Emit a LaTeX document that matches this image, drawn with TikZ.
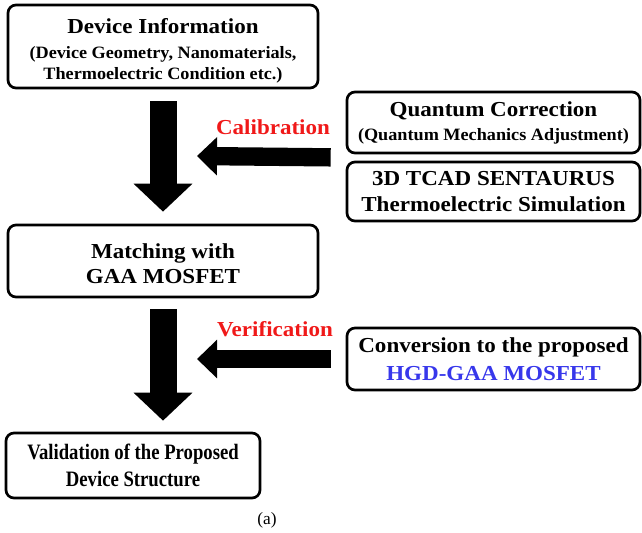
\documentclass[tikz,border=0pt]{standalone}
\usepackage{fontspec}
\setmainfont{Liberation Serif}
\newfontfamily\titlefam[FakeStretch=1.08]{Liberation Serif}
\newfontfamily\subfam[FakeStretch=1.05]{Liberation Serif}
\newfontfamily\valfam[FakeStretch=0.85]{Liberation Serif}
\usepackage{xcolor}
\usetikzlibrary{arrows.meta, positioning, calc}
\definecolor{red1}{RGB}{240,25,25}
\definecolor{blue1}{RGB}{55,55,235}
\newcommand{\titletxt}{\titlefam\fontsize{16}{19}\selectfont\bfseries}
\newcommand{\subtxt}{\subfam\fontsize{13}{15}\selectfont\bfseries}
\newcommand{\valtxt}{\valfam\fontsize{16.5}{20}\selectfont\bfseries}

\begin{document}
\begin{tikzpicture}[
    x=0.75pt, y=-0.75pt,
    every node/.style={anchor=center},
    stagebox/.style={draw, line width=2pt, rounded corners=6pt, align=center, inner sep=0pt, font=\titletxt},
    downarrow/.style={line width=20.25pt, -{Triangle[length=21pt, width=43pt]}},
    leftarrow/.style={line width=13.75pt, -{Triangle[length=15pt, width=28pt]}},
    steplabel/.style={text=red1, font=\titletxt}
]
\useasboundingbox (0,0) rectangle (642,532);

% Left column of stages
\node[stagebox, minimum width=232.5pt, minimum height=62.25pt] (info) at (163,46.5)
    {\rule{0pt}{18pt}Device Information\\{\subtxt (Device Geometry, Nanomaterials,}\\[-3pt]{\subtxt Thermoelectric Condition etc.)}};
\node[stagebox, minimum width=232.5pt, minimum height=54pt] (match) at (163,261)
    {\rule{0pt}{15pt}Matching with\\GAA MOSFET};
\node[stagebox, minimum width=190.5pt, minimum height=48.75pt, font=\valtxt] (valid) at (133,465.5)
    {Validation of the Proposed\\Device Structure};

% Right column of inputs
\node[stagebox, minimum width=219.75pt, minimum height=45.75pt] (quant) at (493.5,122.5)
    {Quantum Correction\\[-1pt]{\subtxt (Quantum Mechanics Adjustment)}};
\node[stagebox, minimum width=219.75pt, minimum height=44.25pt] (tcad) at (493.5,191.5)
    {3D TCAD SENTAURUS\\[0.5pt]Thermoelectric Simulation};
\node[stagebox, minimum width=219.75pt, minimum height=46.5pt] (conv) at (493.5,359)
    {Conversion to the proposed\\[1.8pt]\textcolor{blue1}{HGD-GAA MOSFET}};

% Flow arrows
\draw[downarrow, shorten <=9pt, shorten >=9pt] (info.south) -- (match.north);
\draw[downarrow, shorten <=8.25pt, shorten >=8.25pt] (match.south) -- (match.south |- valid.north);

\coordinate (calfrom) at ($(quant.south west)!0.5!(tcad.north west)$);
\coordinate (calto) at (197,156);
\draw[leftarrow, shorten <=11.25pt] (calfrom) -- (calto);
\coordinate (verto) at (197,359);
\draw[leftarrow, shorten <=11.25pt] (conv.west) -- (verto);

\node[steplabel] (cal) at (273,127) {Calibration};
\node[steplabel] (ver) at (275,329) {Verification};

\node[font=\fontsize{13}{15}\selectfont] (caption) at (267,520) {(a)};
\end{tikzpicture}
\end{document}
